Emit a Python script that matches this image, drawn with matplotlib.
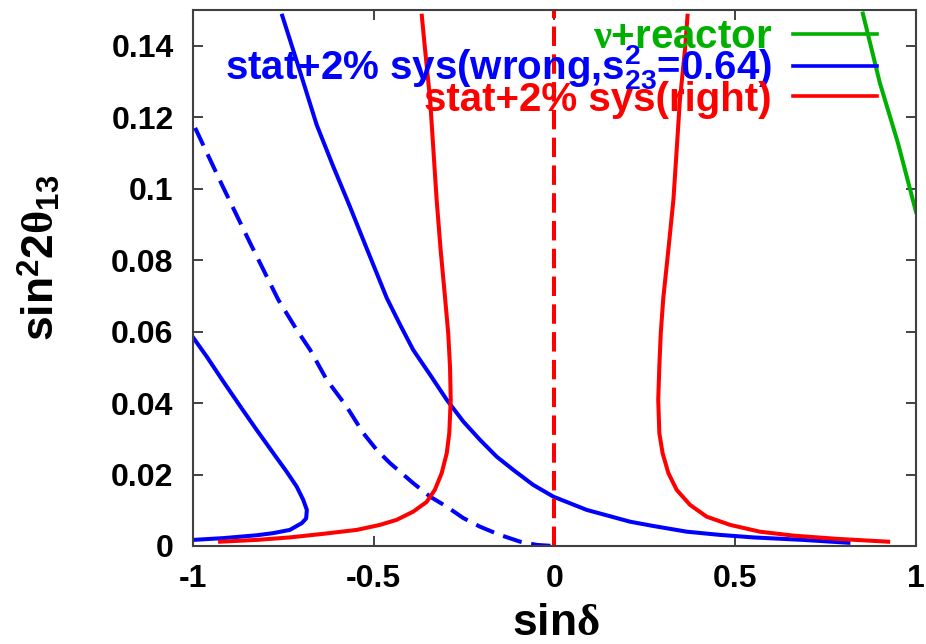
import matplotlib
matplotlib.use('Agg')
import matplotlib.pyplot as plt

plt.rcParams['font.family'] = ['Liberation Sans', 'DejaVu Sans']
plt.rcParams['font.weight'] = 'bold'
plt.rcParams['mathtext.fontset'] = 'custom'
plt.rcParams['mathtext.rm'] = 'Liberation Sans:bold'
plt.rcParams['mathtext.bf'] = 'Liberation Sans:bold'
plt.rcParams['mathtext.sf'] = 'Liberation Sans:bold'
plt.rcParams['mathtext.it'] = 'Liberation Serif'
plt.rcParams['axes.unicode_minus'] = False
plt.rcParams['lines.scale_dashes'] = False

# sin(delta) / sin^2 2theta13 contours
blue_left_x = [-1.0, -0.962, -0.916, -0.870, -0.824, -0.778, -0.741, -0.713, -0.695, -0.685,
               -0.687, -0.699, -0.732, -0.778, -0.824, -0.916, -1.0]
blue_left_y = [0.0584, 0.0530, 0.0460, 0.0392, 0.0325, 0.0260, 0.0208, 0.0166, 0.0129, 0.0101,
               0.0077, 0.0064, 0.0045, 0.0036, 0.0030, 0.0022, 0.0017]

blue_right_x = [-0.753, -0.704, -0.658, -0.612, -0.566, -0.520, -0.464, -0.427, -0.391, -0.344,
                -0.298, -0.252, -0.206, -0.160, -0.114, -0.059, -0.003, 0.089, 0.209, 0.273,
                0.366, 0.458, 0.550, 0.688, 0.813]
blue_right_y = [0.1484, 0.1328, 0.1179, 0.1062, 0.0950, 0.0834, 0.0694, 0.0619, 0.0549, 0.0479,
                0.0409, 0.0348, 0.0297, 0.0250, 0.0213, 0.0171, 0.0138, 0.0101, 0.0068, 0.0056,
                0.0040, 0.0031, 0.0024, 0.0017, 0.0009]

blue_dash_x = [-0.994, -0.920, -0.842, -0.764, -0.713, -0.676, -0.630, -0.575, -0.529, -0.492,
               -0.455, -0.391, -0.344, -0.298, -0.252, -0.206, -0.151, -0.095, -0.049, -0.003]
blue_dash_y = [0.1170, 0.1011, 0.0848, 0.0689, 0.0605, 0.0549, 0.0465, 0.0390, 0.0316, 0.0269,
               0.0232, 0.0176, 0.0138, 0.0110, 0.0078, 0.0054, 0.0031, 0.0012, 0.0003, 0.0]

red_left_x = [-0.367, -0.358, -0.344, -0.335, -0.326, -0.315, -0.303, -0.294, -0.289, -0.287,
              -0.291, -0.298, -0.312, -0.331, -0.354, -0.391, -0.437, -0.483, -0.547, -0.640,
              -0.732, -0.824, -0.925]
red_left_y = [0.1484, 0.1389, 0.1249, 0.1109, 0.0969, 0.0829, 0.0698, 0.0596, 0.0502, 0.0409,
              0.0316, 0.0260, 0.0204, 0.0157, 0.0123, 0.0096, 0.0073, 0.0059, 0.0045, 0.0034,
              0.0024, 0.0017, 0.0012]

red_right_x = [0.368, 0.361, 0.347, 0.338, 0.329, 0.315, 0.301, 0.294, 0.290, 0.287,
               0.290, 0.299, 0.315, 0.338, 0.375, 0.421, 0.486, 0.568, 0.661, 0.781, 0.923]
red_right_y = [0.1484, 0.1389, 0.1249, 0.1109, 0.0969, 0.0829, 0.0694, 0.0596, 0.0502, 0.0409,
               0.0316, 0.0260, 0.0204, 0.0157, 0.0115, 0.0082, 0.0059, 0.0040, 0.0029, 0.0020, 0.0012]

green_x = [0.853, 0.900, 0.950, 1.0]
green_y = [0.149, 0.1296, 0.1128, 0.0935]

true_sindelta = 0.0

labels = ['$\\nu$+reactor',
          'stat+2% sys(wrong,$\\mathbf{s}^2_{23}$=0.64)',
          'stat+2% sys(right)']
colors = ['#00b000', '#0000ff', '#ff0000']

x_ticks = [-1, -0.5, 0, 0.5, 1]
y_ticks = [0, 0.02, 0.04, 0.06, 0.08, 0.1, 0.12, 0.14]

fig = plt.figure(figsize=(9.26, 6.44), dpi=100)
ax = fig.add_axes([0.2084, 0.1522, 0.7808, 0.8323])

lw = 2.9
ax.plot(blue_left_x, blue_left_y, color=colors[1], lw=lw)
ax.plot(blue_right_x, blue_right_y, color=colors[1], lw=lw)
ax.plot(blue_dash_x, blue_dash_y, color=colors[1], lw=lw, dashes=(14, 7))
ax.plot(red_left_x, red_left_y, color=colors[2], lw=lw)
ax.plot(red_right_x, red_right_y, color=colors[2], lw=lw)
ax.plot(green_x, green_y, color=colors[0], lw=lw)
ax.axvline(true_sindelta, color=colors[2], lw=lw, dashes=(14, 6))

# key, right aligned text with a short line segment
key_base = [0.929, 0.869, 0.8116]
for lab, col, yb in zip(labels, colors, key_base):
    ax.text(0.801, yb, lab, transform=ax.transAxes, ha='right', va='baseline',
            color=col, fontsize=29, fontweight='bold')
    yl = yb + 0.027
    ax.plot([0.830, 0.946], [yl, yl], transform=ax.transAxes, color=col, lw=2.6)

ax.set_xlim(-1, 1)
ax.set_ylim(0, 0.15)
ax.set_xticks(x_ticks)
ax.set_xticklabels(['%g' % t for t in x_ticks])
ax.set_yticks(y_ticks)
ax.set_yticklabels(['%g' % t for t in y_ticks])
ax.tick_params(direction='in', length=7, width=1.2, top=True, right=True,
               labelsize=23, color='#222222')
ax.tick_params(axis='x', pad=13)
ax.tick_params(axis='y', pad=14)
for s in ax.spines.values():
    s.set_linewidth(1.5)
    s.set_color('#404040')

ax.set_xlabel('sin$\\delta$', fontsize=32, fontweight='bold')
ax.xaxis.set_label_coords(0.502, -0.145)
ax.xaxis.label.set_verticalalignment('center')
ax.set_ylabel('sin$^2$2$\\theta_{13}$', fontsize=32, fontweight='bold')
ax.yaxis.set_label_coords(-0.212, 0.537)
ax.yaxis.label.set_verticalalignment('center')

fig.savefig('out.png', dpi=100)
